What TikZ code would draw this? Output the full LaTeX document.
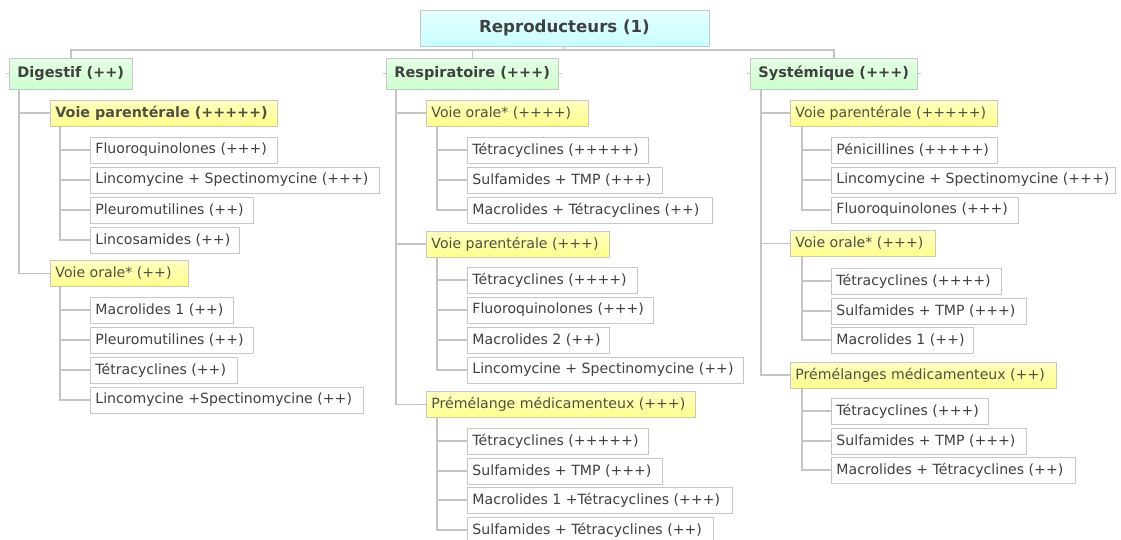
\documentclass[tikz,border=0pt]{standalone}
\usepackage{fontspec}
\setmainfont{DejaVu Sans}
\definecolor{bordergray}{HTML}{C6C6C6}
\definecolor{linegray}{HTML}{C4C4C4}
\definecolor{textgray}{HTML}{404040}
\definecolor{midtext}{HTML}{505040}
\newcommand{\txtbox}[2]{\makebox[#1pt][l]{#2}}
\tikzset{
  conn/.style={draw=linegray, line width=1.1pt},
  leaf/.style={draw=bordergray, fill=white, anchor=west, minimum height=26pt,
    inner xsep=5pt, inner ysep=0pt, line width=0.9pt, text=textgray,
    font=\fontsize{14.1}{16}\selectfont},
  midbox/.style={leaf, top color=yellow!25!white, bottom color=yellow!45!white, text=midtext},
  branch/.style={leaf, minimum height=31pt, inner xsep=8pt, top color=green!10!white, bottom color=green!20!white,
    font=\fontsize{14.5}{16}\selectfont\bfseries},
  rootbox/.style={draw=bordergray, line width=0.9pt, minimum height=36pt, minimum width=289pt,
    top color=cyan!10!white, bottom color=cyan!22!white, text=textgray,
    font=\fontsize{16.6}{18}\selectfont\bfseries}
}
\begin{document}
\begin{tikzpicture}[x=1pt,y=-1pt]
\useasboundingbox (0,0) rectangle (1121,539);
% root
\node[rootbox] (root) at (564.5,28) {Reproducteurs (1)};
% level 1
\node[branch] (dig) at (9,73.5) {\txtbox{107}{Digestif (++)}};
\node[branch] (resp) at (386,73.5) {\txtbox{156}{Respiratoire (+++)}};
\node[branch] (sys) at (750,73.5) {\txtbox{151}{Systémique (+++)}};
\coordinate (bus) at (0,50);
\draw[conn] (dig.north) |- (sys.north |- bus) -- (sys.north);
\draw[conn] (root.south) -- (root.south |- bus);
\draw[conn] (resp.north) -- (resp.north |- bus);
% stubs
\draw[conn] (dig.west) -- ++(-3,0);
\draw[conn] (resp.west) -- ++(-3,0);
\draw[conn] (resp.east) -- ++(3,0);
\draw[conn] (sys.west) -- ++(-3,0);
\draw[conn] (sys.east) -- ++(3,0);

% ---------- Digestif ----------
\node[midbox, font=\fontsize{14.3}{16}\selectfont\bfseries] (dp) at (50,113) {\txtbox{217}{Voie parentérale (+++++)}};
\node[leaf] (dp1) at (90,150) {\txtbox{177}{Fluoroquinolones (+++)}};
\node[leaf] (dp2) at (90,180) {\txtbox{279}{Lincomycine + Spectinomycine (+++)}};
\node[leaf] (dp3) at (90,210) {\txtbox{153}{Pleuromutilines (++)}};
\node[leaf] (dp4) at (90,240) {\txtbox{139}{Lincosamides (++)}};
\node[midbox] (do) at (50,273.5) {\txtbox{128}{Voie orale* (++)}};
\node[leaf] (do1) at (90,310) {\txtbox{133}{Macrolides 1 (++)}};
\node[leaf] (do2) at (90,340) {\txtbox{153}{Pleuromutilines (++)}};
\node[leaf] (do3) at (90,370) {\txtbox{137}{Tétracyclines (++)}};
\node[leaf] (do4) at (90,400) {\txtbox{263}{Lincomycine +Spectinomycine (++)}};
\draw[conn] ([xshift=10pt]dig.south west) |- (dp.west);
\draw[conn] ([xshift=10pt]dig.south west) |- (do.west);
\foreach \c in {dp1,dp2,dp3,dp4} \draw[conn] ([xshift=10pt]dp.south west) |- (\c.west);
\foreach \c in {do1,do2,do3,do4} \draw[conn] ([xshift=10pt]do.south west) |- (\c.west);

% ---------- Respiratoire ----------
\node[midbox] (ro) at (426,113) {\txtbox{152}{Voie orale* (++++)}};
\node[leaf] (ro1) at (467,150) {\txtbox{171}{Tétracyclines (+++++)}};
\node[leaf] (ro2) at (467,180) {\txtbox{185}{Sulfamides + TMP (+++)}};
\node[leaf] (ro3) at (467,210) {\txtbox{235}{Macrolides + Tétracyclines (++)}};
\node[midbox] (rp) at (426,244) {\txtbox{173}{Voie parentérale (+++)}};
\node[leaf] (rp1) at (467,280) {\txtbox{160}{Tétracyclines (++++)}};
\node[leaf] (rp2) at (467,310) {\txtbox{176}{Fluoroquinolones (+++)}};
\node[leaf] (rp3) at (467,340) {\txtbox{132}{Macrolides 2 (++)}};
\node[leaf] (rp4) at (467,370) {\txtbox{266}{Lincomycine + Spectinomycine (++)}};
\node[midbox] (rm) at (426,404.5) {\txtbox{259}{Prémélange médicamenteux (+++)}};
\node[leaf] (rm1) at (467,441) {\txtbox{171}{Tétracyclines (+++++)}};
\node[leaf] (rm2) at (467,471) {\txtbox{185}{Sulfamides + TMP (+++)}};
\node[leaf] (rm3) at (467,500) {\txtbox{255}{Macrolides 1 +Tétracyclines (+++)}};
\node[leaf] (rm4) at (467,530) {\txtbox{236}{Sulfamides + Tétracyclines (++)}};
\foreach \c in {ro,rp,rm} \draw[conn] ([xshift=10pt]resp.south west) |- (\c.west);
\foreach \c in {ro1,ro2,ro3} \draw[conn] ([xshift=11pt]ro.south west) |- (\c.west);
\foreach \c in {rp1,rp2,rp3,rp4} \draw[conn] ([xshift=11pt]rp.south west) |- (\c.west);
\foreach \c in {rm1,rm2,rm3,rm4} \draw[conn] ([xshift=11pt]rm.south west) |- (\c.west);

% ---------- Systemique ----------
\node[midbox] (sp) at (790,113) {\txtbox{197}{Voie parentérale (+++++)}};
\node[leaf] (sp1) at (831,150) {\txtbox{156}{Pénicillines (+++++)}};
\node[leaf] (sp2) at (831,180) {\txtbox{274}{Lincomycine + Spectinomycine (+++)}};
\node[leaf] (sp3) at (831,210) {\txtbox{177}{Fluoroquinolones (+++)}};
\node[midbox] (so) at (790,243.5) {\txtbox{135}{Voie orale* (+++)}};
\node[leaf] (so1) at (831,281) {\txtbox{160}{Tétracyclines (++++)}};
\node[leaf] (so2) at (831,311) {\txtbox{185}{Sulfamides + TMP (+++)}};
\node[leaf] (so3) at (831,340) {\txtbox{132}{Macrolides 1 (++)}};
\node[midbox] (sm) at (790,375) {\txtbox{256}{Prémélanges médicamenteux (++)}};
\node[leaf] (sm1) at (831,411) {\txtbox{147}{Tétracyclines (+++)}};
\node[leaf] (sm2) at (831,441) {\txtbox{185}{Sulfamides + TMP (+++)}};
\node[leaf] (sm3) at (831,470) {\txtbox{234}{Macrolides + Tétracyclines (++)}};
\foreach \c in {sp,so,sm} \draw[conn] ([xshift=11pt]sys.south west) |- (\c.west);
\foreach \c in {sp1,sp2,sp3} \draw[conn] ([xshift=12pt]sp.south west) |- (\c.west);
\foreach \c in {so1,so2,so3} \draw[conn] ([xshift=12pt]so.south west) |- (\c.west);
\foreach \c in {sm1,sm2,sm3} \draw[conn] ([xshift=12pt]sm.south west) |- (\c.west);
\end{tikzpicture}
\end{document}
